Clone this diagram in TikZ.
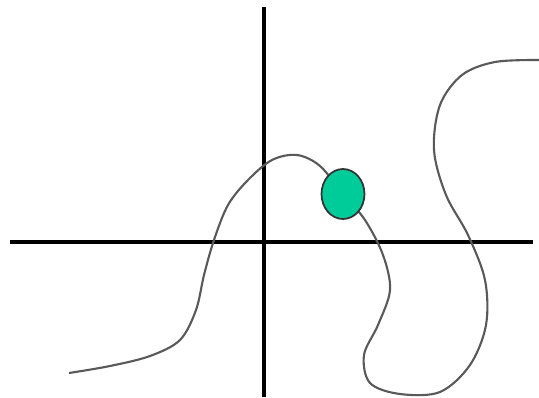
\documentclass[tikz,border=0pt]{standalone}
\usetikzlibrary{shapes.geometric}
\definecolor{ballgreen}{RGB}{0,204,153}
\begin{document}
\begin{tikzpicture}[x=0.02cm, y=-0.02cm,
			axis/.style={black, line width=2pt},
			path line/.style={black!65, line width=1.2pt},
			ball/.style={ellipse, draw=black!80, line width=1pt, fill=ballgreen, inner sep=0pt, minimum width=0.86cm, minimum height=1cm}]
			\useasboundingbox (0,0) rectangle (539,397);
			% axes
			\coordinate (xl) at (10,242);
			\coordinate (xr) at (533,242);
			\coordinate (yt) at (264,7);
			\coordinate (yb) at (264,397);
			\draw[axis] (xl)--(xr);
			\draw[axis] (yt)--(yb);
			% the winding path
			\coordinate (ballc) at (343,194);
			\draw[path line] plot[smooth, tension=0.55] coordinates {
				(69,373) (110,366) (150,356) (180,340) (196,310) (204,275)
				(214,240) (228,205) (248,180) (272,160) (297,155) (320,166)
				(ballc) (365,220) (383,255) (390,290) (378,325) (364,355)
				(370,383) (400,394) (440,392) (470,365) (486,325) (485,280)
				(468,235) (446,195) (434,150) (440,105) (462,75) (495,62)
				(539,60)};
			\node[ball] (ball) at (ballc) {};
		\end{tikzpicture}
\end{document}
